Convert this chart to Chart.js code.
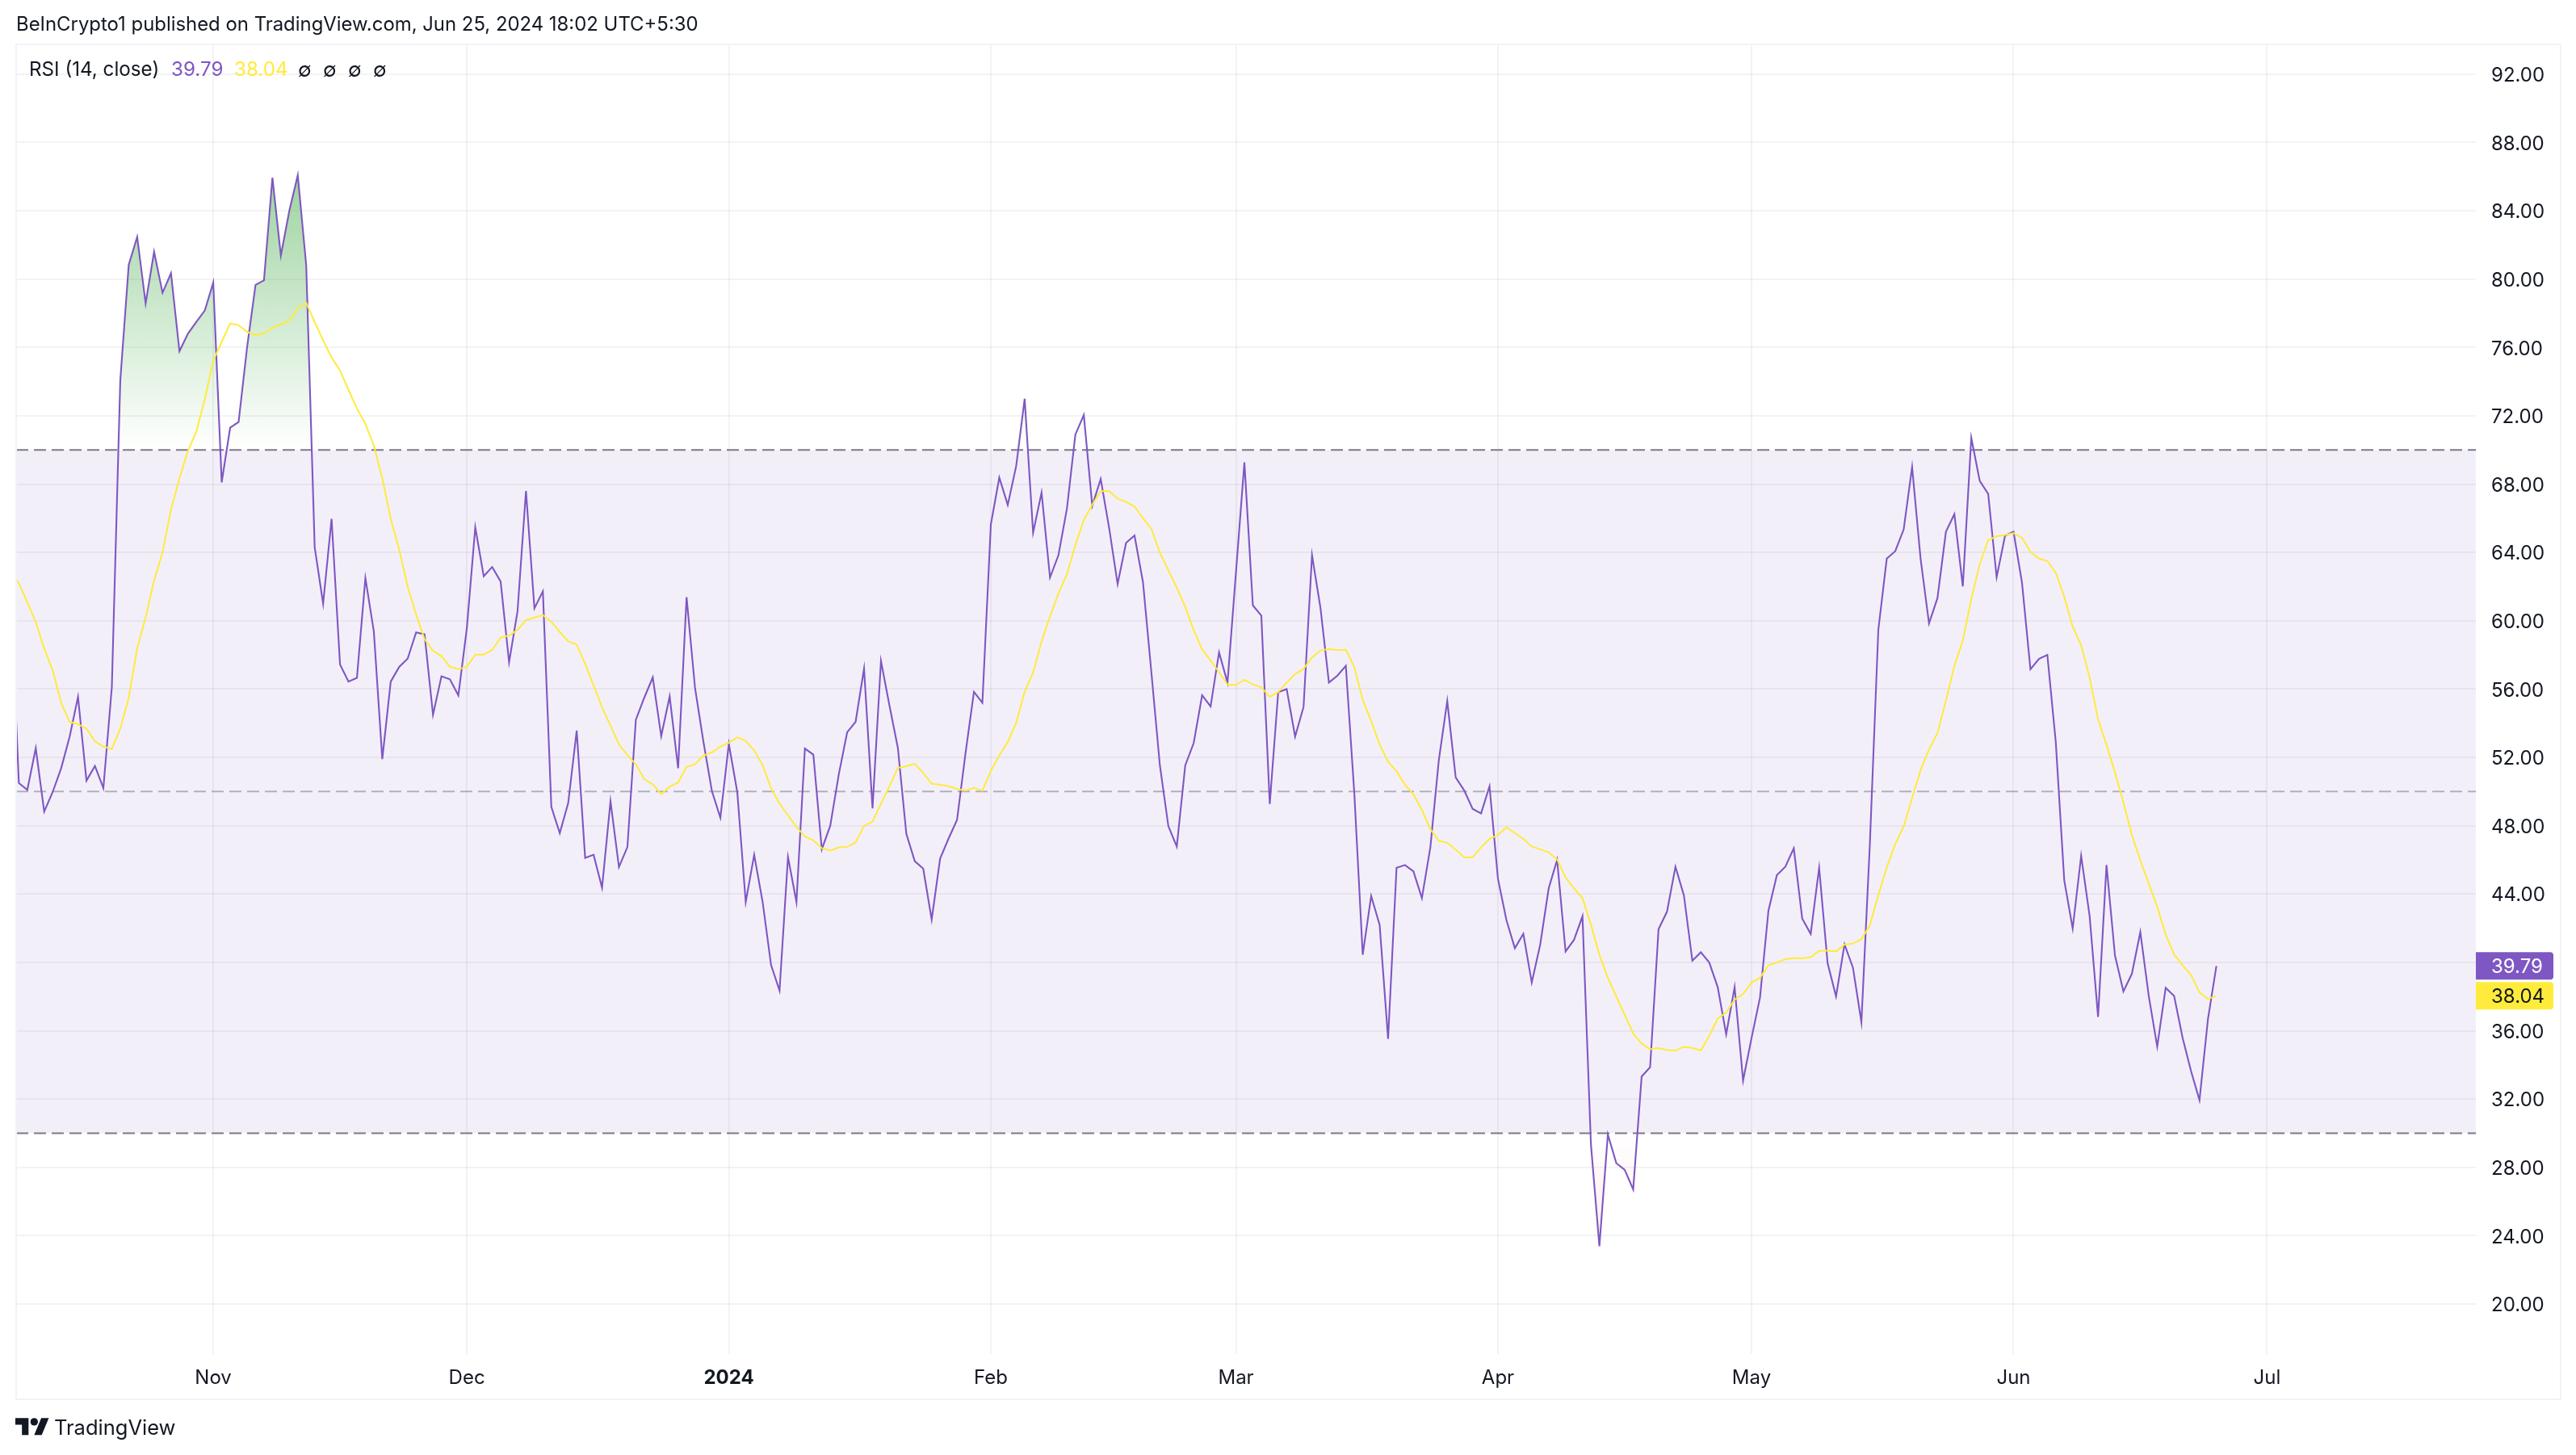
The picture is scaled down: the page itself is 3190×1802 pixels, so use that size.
<!DOCTYPE html>
<html><head><meta charset="utf-8">
<script src="https://cdn.jsdelivr.net/npm/chart.js@4"></script>
<style>
html,body{margin:0;padding:0;background:#fff;overflow:hidden;width:3190px;height:1802px;font-family:Inter,sans-serif;color:#131722}
canvas{position:absolute;left:0;top:0}
.t{position:absolute;white-space:nowrap;line-height:1;font-size:24.2px}
#frame{position:absolute;left:19px;top:54px;border:2px solid #f0f3fa;box-sizing:content-box;pointer-events:none}
</style></head><body>
<canvas id="c" width="3190" height="1802"></canvas>
<div id="frame" style="width:3149px;height:1676px"></div>
<div class="t" style="left:20px;top:18px;font-size:23.9px">BeInCrypto1 published on TradingView.com, Jun 25, 2024 18:02 UTC+5:30</div>
<div class="t" style="left:36px;top:74px">RSI (14, close)</div>
<div class="t" style="left:212px;top:74px;color:#7e57c2">39.79</div>
<div class="t" style="left:290px;top:74px;color:#ffeb3b">38.04</div>
<div class="t" style="left:369px;top:75px">∅</div>
<div class="t" style="left:400px;top:75px">∅</div>
<div class="t" style="left:431px;top:75px">∅</div>
<div class="t" style="left:462px;top:75px">∅</div>
<svg style="position:absolute;left:19px;top:1754px" width="42" height="26" viewBox="0 4 36 18.5"><path fill="#131722" d="M14 22H7V11H0V4h14v18zM28 22h-8l7.5-18h8L28 22z"/><circle fill="#131722" cx="20" cy="8" r="4"/></svg>
<div class="t" style="left:67px;top:1755px;font-size:25.5px">TradingView</div>
<script>
const firstDay = -24; // day offset from 1 Nov 2023
const rsiValues = [
62,50.5,50.1,52.54,48.83,49.97,51.36,53.2,55.54,50.64,51.5,50.2,56.1,74.06,
80.84,82.47,78.58,81.6,79.2,80.35,75.78,76.8,77.5,78.16,
79.8,68.1,71.3,71.64,76,79.66,79.93,85.94,81.38,84,
86.08,80.8,64.31,61,65.97,57.44,56.44,56.66,62.5,59.37,
51.9,56.44,57.3,57.78,59.32,59.2,54.5,56.75,56.57,55.63,
59.55,65.47,62.6,63.15,62.3,57.57,60.55,67.6,60.73,61.72,
49.1,47.57,49.34,53.57,46.12,46.3,44.37,49.43,45.58,46.75,
54.2,55.5,56.68,53.24,55.57,51.37,61.38,56.07,52.9,50.03,
48.47,52.79,49.97,43.53,46.3,43.53,39.84,38.35,46.17,43.53,
52.52,52.16,46.62,48,50.98,53.47,54.08,57.2,49.02,57.65,
55.05,52.56,47.53,45.92,45.49,42.5,46.08,47.25,48.34,52.23,
55.84,55.2,65.63,68.38,66.78,69.06,73,65.15,67.5,62.53,
63.84,66.55,70.9,72.05,66.73,68.3,65.42,62.15,64.56,64.99,
62.26,56.95,51.53,47.98,46.78,51.53,52.84,55.64,54.98,58.15,
56.38,62.82,69.27,60.9,60.3,49.27,55.82,56,53.22,54.96,
63.84,60.75,56.38,56.79,57.36,49.94,40.45,43.89,42.2,35.52,
45.54,45.7,45.33,43.76,46.74,51.83,55.3,50.83,50.07,48.99,
48.72,50.31,44.89,42.48,40.83,41.67,38.82,41.05,44.33,46,
40.64,41.32,42.7,29.34,23.38,29.93,28.25,27.85,26.71,33.32,
33.86,41.94,42.97,45.6,43.92,40.1,40.59,39.99,38.55,35.79,
38.55,33.08,35.57,37.93,43.02,45.11,45.6,46.68,42.56,41.67,
45.54,39.96,38.01,41.05,39.69,36.5,46.92,59.46,63.64,64.07,
65.34,69,63.64,59.84,61.33,65.21,66.24,62.01,70.71,68.19,
67.43,62.55,64.99,65.21,62.23,57.16,57.76,58,52.88,44.8,
41.98,46.24,42.72,36.81,45.7,40.41,38.3,39.33,41.77,38.03,
35.07,38.51,38.03,35.59,33.64,31.93,36.67,39.79];
const maValues = [
63,62.18,61.09,59.92,58.38,57.11,55.2,54.08,53.95,53.68,52.95,52.63,52.5,53.68,
55.49,58.38,60.19,62.36,63.99,66.52,68.33,69.95,71.07,72.97,
75.23,76.32,77.4,77.31,76.91,76.73,76.82,77.17,77.35,77.58,
78.31,78.61,77.49,76.41,75.41,74.65,73.52,72.43,71.53,70.26,
68.33,65.97,64.17,62,60.37,58.92,58.24,57.93,57.3,57.17,
57.3,58.02,58.02,58.29,59.01,59.14,59.46,60.04,60.19,60.33,
59.95,59.34,58.8,58.61,57.48,56.21,54.94,53.86,52.77,52.14,
51.6,50.73,50.42,49.85,50.3,50.53,51.44,51.59,52.11,52.29,
52.63,52.86,53.18,52.97,52.41,51.55,50.19,49.29,48.61,47.93,
47.37,47.14,46.69,46.55,46.73,46.76,47.03,48,48.23,49.29,
50.31,51.39,51.48,51.62,51.1,50.46,50.4,50.31,50.15,50.06,
50.22,50.06,51.21,52.11,52.9,54.03,55.84,56.97,58.78,60.25,
61.6,62.73,64.43,65.9,66.8,67.59,67.59,67.14,66.96,66.69,
66,65.38,63.98,62.96,61.94,60.81,59.45,58.33,57.67,56.99,
56.27,56.23,56.54,56.27,56.11,55.55,55.82,56.38,56.88,57.18,
57.85,58.26,58.35,58.28,58.31,57.29,55.37,54.12,52.77,51.75,
51.19,50.4,49.83,48.93,47.8,47.12,47,46.6,46.15,46.15,
46.74,47.23,47.46,47.91,47.57,47.23,46.78,46.62,46.44,46.03,
44.97,44.34,43.76,42.21,40.45,39.09,38.01,36.93,35.84,35.25,
34.92,34.98,34.87,34.84,35.06,35,34.84,35.71,36.71,37.06,
37.82,38.15,38.82,39.09,39.83,39.99,40.18,40.26,40.23,40.31,
40.67,40.69,40.64,41.05,41.1,41.36,42.17,43.93,45.56,46.92,
47.95,49.63,51.25,52.47,53.42,55.32,57.35,58.84,61.28,63.31,
64.72,64.94,65.02,65.13,64.86,64.04,63.64,63.5,62.82,61.41,
59.65,58.57,56.67,54.23,52.74,51.12,49.35,47.46,45.97,44.61,
43.26,41.63,40.47,39.82,39.27,38.24,37.86,38.04];
const monthDays = [0,30,61,92,121,152,182,213,243];
const monthLabels = ['Nov','Dec','2024','Feb','Mar','Apr','May','Jun','Jul'];
const yTicks = [20,24,28,32,36,40,44,48,52,56,60,64,68,72,76,80,84,88,92];
const xMin = -23.32, xMax = 267.7;
const yMin = 17.07, yMax = 93.74;
const upperBand = 70, middleBand = 50, lowerBand = 30;
const lastRsi = 39.79, lastMa = 38.04;

const ink = '#131722', purple = '#7e57c2', yellow = '#ffeb3b', gridC = 'rgba(42,46,57,0.06)';
const series = a => a.map((y, i) => ({x: firstDay + i, y}));
const hline = v => [{x: xMin, y: v}, {x: xMax, y: v}];
const lineBase = {pointRadius: 0, tension: 0, fill: false, borderJoinStyle: 'miter'};

function gradient(ctx, vFrom, vTo, cFrom, cTo) {
  const {chart} = ctx; const s = chart.scales.y;
  if (!s || !chart.chartArea) return 'transparent';
  const g = chart.ctx.createLinearGradient(0, s.getPixelForValue(vFrom), 0, s.getPixelForValue(vTo));
  g.addColorStop(0, cFrom); g.addColorStop(1, cTo);
  return g;
}
const badges = {
  id: 'badges',
  afterDraw(chart) {
    const c = chart.ctx, s = chart.scales.y, a = chart.chartArea;
    [[lastRsi, purple, '#ffffff'], [lastMa, yellow, ink]].forEach(([v, bg, fg]) => {
      const y = s.getPixelForValue(v);
      c.save();
      c.fillStyle = bg; c.beginPath();
      c.roundRect(a.right, y - 17, 96, 34, [0, 4, 4, 0]); c.fill();
      c.fillStyle = fg; c.font = '24px Inter'; c.textAlign = 'left'; c.textBaseline = 'middle';
      c.fillText(v.toFixed(2), a.right + 19, y + 1);
      c.restore();
    });
  }
};
new Chart(document.getElementById('c'), {
  type: 'line',
  plugins: [badges],
  data: {datasets: [
    {label: 'MA', data: series(maValues), borderColor: yellow, borderWidth: 2, order: 0, ...lineBase},
    {label: 'RSI', data: series(rsiValues), borderColor: purple, borderWidth: 2.1, order: 1, ...lineBase,
      fill: {target: {value: upperBand}, below: 'rgba(0,0,0,0)'},
      backgroundColor: ctx => gradient(ctx, 86, upperBand, 'rgba(76,175,80,0.54)', 'rgba(76,175,80,0)')},
    {label: 'Oversold', data: series(rsiValues), borderWidth: 0, borderColor: 'rgba(0,0,0,0)', order: 2, ...lineBase,
      fill: {target: {value: lowerBand}, above: 'rgba(0,0,0,0)'},
      backgroundColor: ctx => gradient(ctx, lowerBand, 23, 'rgba(255,82,82,0)', 'rgba(255,82,82,0.12)')},
    {label: 'Upper', data: hline(upperBand), borderColor: '#787b86', borderWidth: 2, borderDash: [15, 7], order: 3, ...lineBase},
    {label: 'Middle', data: hline(middleBand), borderColor: 'rgba(120,123,134,0.55)', borderWidth: 2, borderDash: [15, 7], order: 3, ...lineBase},
    {label: 'Lower', data: hline(lowerBand), borderColor: '#787b86', borderWidth: 2, borderDash: [15, 7], order: 3, ...lineBase},
    {label: 'Band', data: hline(upperBand), borderWidth: 0, borderColor: 'rgba(0,0,0,0)', order: 4, ...lineBase,
      fill: {target: {value: lowerBand}}, backgroundColor: 'rgba(126,87,194,0.095)'}
  ]},
  options: {
    responsive: false, animation: false, devicePixelRatio: 1,
    layout: {padding: {left: 20, top: 55, right: 20, bottom: 70}},
    plugins: {legend: {display: false}, tooltip: {enabled: false}, title: {display: false}},
    scales: {
      x: {type: 'linear', min: xMin, max: xMax,
        afterBuildTicks: s => { s.ticks = monthDays.map(v => ({value: v})); },
        afterFit: s => { s.height = 55; },
        grid: {color: gridC, lineWidth: 2, drawTicks: false}, border: {display: false},
        ticks: {autoSkip: false, maxRotation: 0, padding: 15, color: ink,
          font: c => ({family: 'Inter', size: 24, weight: c.index === 2 ? '700' : '400'}),
          callback: (v, i) => monthLabels[i]}},
      y: {type: 'linear', position: 'right', min: yMin, max: yMax,
        afterBuildTicks: s => { s.ticks = yTicks.map(v => ({value: v})); },
        afterFit: s => {
          s.width = 104;
          const orig = s._computeLabelItems.bind(s);
          s._computeLabelItems = ca => orig(ca).map(i => ({...i, options: {...i.options,
            translation: [i.options.translation[0], i.options.translation[1] + 1]}}));
        },
        grid: {color: gridC, lineWidth: 2, drawTicks: false}, border: {display: false},
        ticks: {autoSkip: false, padding: 19, color: ink, font: {family: 'Inter', size: 24},
          callback: v => v.toFixed(2)}}
    }
  }
});
</script>
</body></html>
